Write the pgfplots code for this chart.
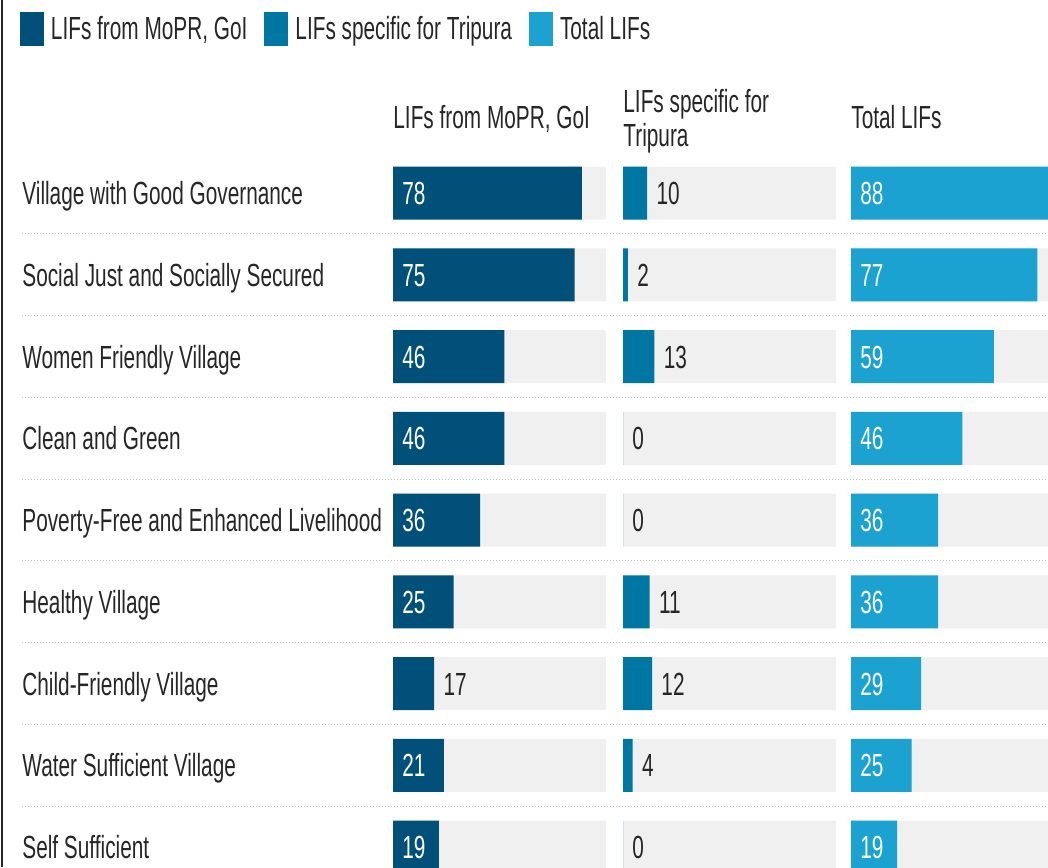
\documentclass[border=0pt]{standalone}
\usepackage{fontspec}
\setmainfont{Liberation Sans}[FakeStretch=0.65]
\usepackage{pgfplots}
\pgfplotsset{compat=1.18}
\definecolor{cA}{HTML}{00507A}
\definecolor{cB}{HTML}{0077A3}
\definecolor{cC}{HTML}{1BA2D0}
\definecolor{bgg}{HTML}{F0F0F0}
\definecolor{txt}{HTML}{262626}
\definecolor{sepc}{HTML}{C4C4C4}
\newcommand{\fs}{\fontsize{16}{19}\selectfont}
\pgfplotsset{
  colaxis/.style={
    scale only axis, width=106.5pt, height=367.9pt,
    xmin=0, xmax=88, ymin=-0.5, ymax=8.5, y dir=reverse,
    hide axis, clip=false, anchor=north west},
  bg/.style={xbar, bar width=26.5pt, bar shift=0pt, fill=bgg, draw=none},
  val/.style={xbar, bar width=26.5pt, bar shift=0pt, fill=#1, draw=none},
  lab/.style={draw=none, mark=none,
    nodes near coords, point meta=explicit symbolic,
    nodes near coords style={anchor=base west, inner sep=0pt, xshift=4.5pt, yshift=-5.75pt, text=#1, font=\fs}},
  cat/.style={draw=none, mark=none,
    nodes near coords, point meta=explicit symbolic,
    nodes near coords style={anchor=base west, inner sep=0pt, xshift=-185.5pt, yshift=-5.75pt, text=txt, font=\fs}},
}
\begin{document}
\begin{tikzpicture}[font=\fs]
\useasboundingbox (0,0) rectangle (524pt,-433.5pt);
\clip (0,0) rectangle (524pt,-433.5pt);
\draw[black!85, line width=1pt] (1pt,0) -- (1pt,-433.5pt);
\foreach \k in {1,...,8} {
  \draw[sepc, line width=0.6pt, dash pattern=on 0.6pt off 0.9pt] (11pt,{-76.06pt-40.875pt*\k}) -- (524pt,{-76.06pt-40.875pt*\k});
}
% Column 1
\begin{axis}[colaxis, at={(196.5pt,-76.06pt)},
  legend columns=3,
  legend image code/.code={\fill[#1] (0pt,-8.5pt) rectangle (12pt,8.5pt);},
  legend style={at={(axis description cs:0,1)}, anchor=north west, xshift=-186.5pt, yshift=70.06pt,
    draw=none, fill=none, inner sep=0pt, outer sep=0pt,
    nodes={inner sep=0pt, text=txt, font=\fs},
    /tikz/every odd column/.append style={column sep=3.5pt},
    /tikz/every even column/.append style={column sep=8.5pt}},
  legend cell align=left]
\addlegendimage{fill=cA, draw=none}
\addlegendentry{LIFs from MoPR, GoI}
\addlegendimage{fill=cB, draw=none}
\addlegendentry{LIFs specific for Tripura}
\addlegendimage{fill=cC, draw=none}
\addlegendentry{Total LIFs}
\addplot[bg, forget plot] coordinates {(88,0) (88,1) (88,2) (88,3) (88,4) (88,5) (88,6) (88,7) (88,8)};
\addplot[val=cA, forget plot] coordinates {(78,0) (75,1) (46,2) (46,3) (36,4) (25,5) (17,6) (21,7) (19,8)};
\addplot[lab=white, forget plot] coordinates {(0,0) [78] (0,1) [75] (0,2) [46] (0,3) [46] (0,4) [36] (0,5) [25] (0,7) [21] (0,8) [19]};
\addplot[lab=txt, forget plot] coordinates {(17,6) [17]};
\addplot[cat, forget plot] coordinates {(0,0) [Village with Good Governance] (0,1) [Social Just and Socially Secured] (0,2) [Women Friendly Village] (0,3) [Clean and Green] (0,4) [Poverty-Free and Enhanced Livelihood] (0,5) [Healthy Village] (0,6) [Child-Friendly Village] (0,7) [Water Sufficient Village] (0,8) [Self Sufficient]};
\end{axis}
% Column 2
\begin{axis}[colaxis, at={(311.5pt,-76.06pt)}]
\addplot[bg] coordinates {(88,0) (88,1) (88,2) (88,3) (88,4) (88,5) (88,6) (88,7) (88,8)};
\addplot[val=cB] coordinates {(10,0) (2,1) (13,2) (0,3) (0,4) (11,5) (12,6) (4,7) (0,8)};
\addplot[lab=txt] coordinates {(10,0) [10] (2,1) [2] (13,2) [13] (0,3) [0] (0,4) [0] (11,5) [11] (12,6) [12] (4,7) [4] (0,8) [0]};
\end{axis}
% Column 3
\begin{axis}[colaxis, at={(425.5pt,-76.06pt)}]
\addplot[bg] coordinates {(88,0) (88,1) (88,2) (88,3) (88,4) (88,5) (88,6) (88,7) (88,8)};
\addplot[val=cC] coordinates {(88,0) (77,1) (59,2) (46,3) (36,4) (36,5) (29,6) (25,7) (19,8)};
\addplot[lab=white] coordinates {(0,0) [88] (0,1) [77] (0,2) [59] (0,3) [46] (0,4) [36] (0,5) [36] (0,6) [29] (0,7) [25] (0,8) [19]};
\end{axis}
% Column headers
\node[anchor=base west, inner sep=0pt, text=txt] at (196.5pt,-64.25pt) {LIFs from MoPR, GoI};
\node[anchor=base west, inner sep=0pt, text=txt] at (311.5pt,-56pt) {LIFs specific for};
\node[anchor=base west, inner sep=0pt, text=txt] at (311.5pt,-73pt) {Tripura};
\node[anchor=base west, inner sep=0pt, text=txt] at (425.5pt,-64pt) {Total LIFs};
\end{tikzpicture}
\end{document}
